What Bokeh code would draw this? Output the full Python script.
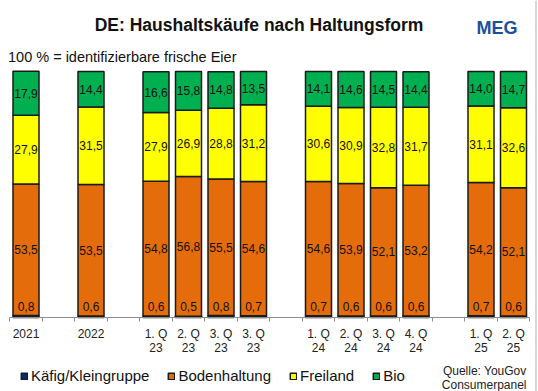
from bokeh.plotting import figure
from bokeh.models import ColumnDataSource, FixedTicker, Label, Legend, LegendItem, Arrow
from bokeh.embed import file_html
from bokeh.resources import INLINE
from bokeh.core.properties import value

# ---- data -------------------------------------------------------------
periods = ["2021", "", "2022", "", "1. Q\n23", "2. Q\n23", "3. Q\n23", "3. Q\n23", "",
           "1. Q\n24", "2. Q\n24", "3. Q\n24", "4. Q\n24", "", "1. Q\n25", "2. Q\n25"]
kaefig = [0.8, 0.6, 0.6, 0.5, 0.8, 0.7, 0.7, 0.6, 0.6, 0.6, 0.7, 0.6]
boden = [53.5, 53.5, 54.8, 56.8, 55.5, 54.6, 54.6, 53.9, 52.1, 53.2, 54.2, 52.1]
freiland = [27.9, 31.5, 27.9, 26.9, 28.8, 31.2, 30.6, 30.9, 32.8, 31.7, 31.1, 32.6]
bio = [17.9, 14.4, 16.6, 15.8, 14.8, 13.5, 14.1, 14.6, 14.5, 14.4, 14.0, 14.7]
series_names = ["Käfig/Kleingruppe", "Bodenhaltung", "Freiland", "Bio"]
colors = ["#0B2A6E", "#E46C0A", "#FFFF00", "#00B050"]

FONT = "Liberation Sans"

x = [i for i, lab in enumerate(periods) if lab]
keys = ["kaefig", "boden", "freiland", "bio"]
src = ColumnDataSource(dict(x=x, kaefig=kaefig, boden=boden, freiland=freiland, bio=bio))

# layout: the frame covers the whole canvas
W, H = 538, 391
SLOT_PX = 32.5          # px per category slot
X0_PX = 25.5            # px from canvas left to centre of first slot
Y0_PX = 74              # px from canvas bottom to value 0
PX_PER_PCT = 2.46
x_rng = (-X0_PX / SLOT_PX, (W - X0_PX) / SLOT_PX)
y_rng = (-Y0_PX / PX_PER_PCT, (H - Y0_PX) / PX_PER_PCT)

p = figure(width=W, height=H, x_range=x_rng, y_range=y_rng,
           output_backend="svg", toolbar_location=None, y_axis_location=None,
           min_border=0, min_border_left=0, min_border_right=0,
           min_border_top=0, min_border_bottom=0)
p.grid.visible = False
p.outline_line_color = None

renderers = p.vbar_stack(keys, x="x", width=0.8, source=src, fill_color=colors,
                         line_color="#1a1a1a", line_width=1.5)

# ---- data labels ------------------------------------------------------
def fmt(v):
    return f"{v:.1f}".replace(".", ",")

lx, ly, lt = [], [], []
for j in range(len(x)):
    base = kaefig[j]
    for vals in (boden, freiland, bio):
        lx.append(x[j])
        ly.append(base + vals[j] / 2)
        lt.append(fmt(vals[j]))
        base += vals[j]
p.text(x=lx, y=ly, text=lt, text_align="center", text_baseline="middle",
       text_font=value(FONT), text_font_size="12px", text_color="#111111")
p.text(x=x, y=[0] * len(x), text=[fmt(v) for v in kaefig], text_align="center",
       text_baseline="middle", y_offset=-11,
       text_font=value(FONT), text_font_size="12px", text_color="#111111")

# ---- axis -------------------------------------------------------------
ax = p.xaxis[0]
ax.fixed_location = 0
ax.bounds = (-0.5, len(periods) - 0.5)
ax.ticker = FixedTicker(ticks=x, minor_ticks=[i - 0.5 for i in range(len(periods) + 1)])
ax.major_label_overrides = {i: periods[i] for i in x}
ax.major_tick_out = 0
ax.major_tick_in = 0
ax.minor_tick_out = 4
ax.minor_tick_in = 0
ax.axis_line_color = "#8c8c8c"
ax.minor_tick_line_color = "#8c8c8c"
ax.major_label_standoff = 5
ax.major_label_text_font = FONT
ax.major_label_text_font_size = "12px"
ax.major_label_text_color = "#222222"
ax.major_label_text_line_height = 1.05

# ---- legend -----------------------------------------------------------
legend = Legend(items=[LegendItem(label=n, renderers=[r]) for n, r in zip(series_names, renderers)],
                orientation="horizontal", location=(20, 7), glyph_width=8, glyph_height=8,
                label_standoff=3, spacing=18, padding=0, margin=0, border_line_alpha=0,
                background_fill_alpha=0, label_text_font=FONT, label_text_font_size="15px",
                label_height=16, label_text_color="#111111")
p.add_layout(legend)

# ---- texts ------------------------------------------------------------
def add_label(text, x, y, size, align="left", bold=False, color="#111111"):
    p.add_layout(Label(x=x, y=y, x_units="screen", y_units="screen", text=text,
                       text_font=FONT, text_font_size=size, text_align=align,
                       text_baseline="alphabetic", text_color=color,
                       text_font_style="bold" if bold else "normal"))

add_label("DE: Haushaltskäufe nach Haltungsform", 258.5, 367, "17.5px", align="center", bold=True)
add_label("100 % = identifizierbare frische Eier", 7.5, 335, "14.5px")
add_label("Quelle: YouGov", 526, 21, "12px", align="right", color="#222222")
add_label("Consumerpanel", 526, 7, "12px", align="right", color="#222222")
add_label("MEG", 476, 364, "18px", bold=True, color="#1B4F9C")

p.add_layout(Arrow(x_start=535.5, y_start=0, x_end=535.5, y_end=H,
                   start_units="screen", end_units="screen", end=None,
                   line_color="#b0b0b0", line_width=1))

open("out.html", "w").write(file_html(p, INLINE))
